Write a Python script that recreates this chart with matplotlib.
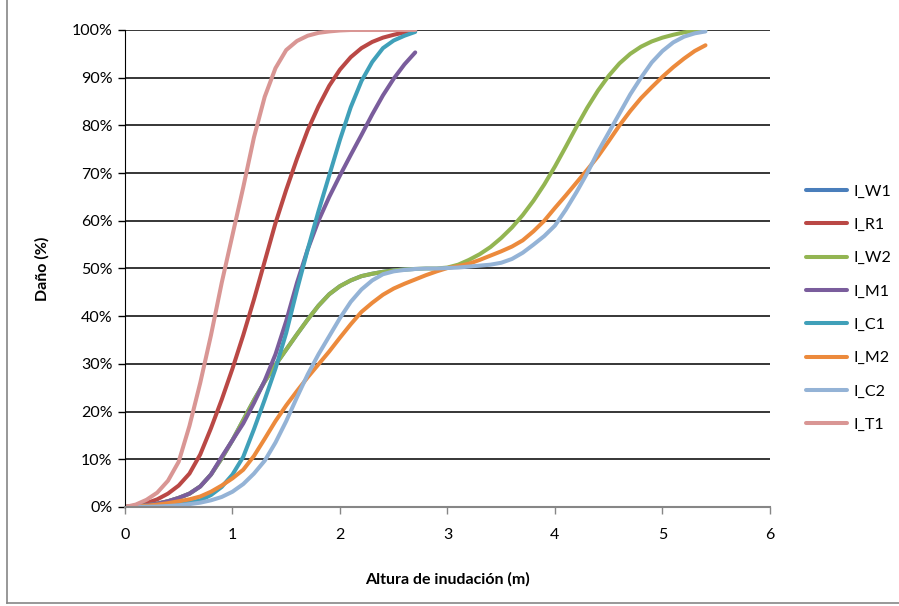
import matplotlib
matplotlib.use("Agg")
import matplotlib.pyplot as plt
from matplotlib.lines import Line2D
from matplotlib.ticker import FuncFormatter, MultipleLocator

plt.rcParams["font.family"] = ["Lato", "DejaVu Sans"]

# water depth (m) for the short and long curves
depth_short = [round(0.1 * i, 1) for i in range(28)]   # 0.0 .. 2.7
depth_long = [round(0.1 * i, 1) for i in range(55)]    # 0.0 .. 5.4

# damage (%)
i_w1 = [0, 0.1, 0.35, 0.7, 1.2, 1.9, 2.8, 4.3, 6.8, 10.2, 14, 18.2, 22.4, 26.3,
        29.8, 33, 36.2, 39.3, 42.2, 44.6, 46.3, 47.5, 48.4, 48.9, 49.3, 49.6, 49.8, 49.9]
i_r1 = [0, 0.3, 0.8, 1.6, 2.8, 4.5, 7, 11, 16.5, 22.5, 29, 36, 43.5, 51.5,
        59.5, 66.5, 73, 79, 84, 88.3, 91.7, 94.3, 96.2, 97.5, 98.4, 99, 99.5, 99.8]
i_w2 = [0, 0.1, 0.35, 0.7, 1.2, 1.9, 2.8, 4.3, 6.8, 10.2, 14, 18.2, 22.4, 26.3,
        29.8, 33, 36.2, 39.3, 42.2, 44.6, 46.3, 47.5, 48.4, 48.9, 49.3, 49.6, 49.8, 49.9,
        50, 50, 50.2, 50.8, 51.8, 53, 54.5, 56.4, 58.6, 61.2, 64.2, 67.6, 71.4, 75.5,
        79.7, 83.7, 87.3, 90.4, 93, 95, 96.5, 97.6, 98.4, 99, 99.5, 99.8, 100]
i_m1 = [0, 0.1, 0.35, 0.7, 1.2, 1.9, 2.8, 4.3, 6.8, 10.5, 14, 17.5, 21.8, 26.5,
        32, 39, 47, 54, 60, 65, 69.5, 73.8, 78, 82.3, 86.3, 89.8, 92.8, 95.3]
i_c1 = [0, 0, 0.1, 0.2, 0.35, 0.6, 0.9, 1.4, 2.5, 4.2, 6.8, 10.5, 16.3, 22.5,
        29, 36.5, 45.5, 54, 62, 69.5, 77, 83.8, 89.3, 93.3, 96.2, 97.8, 98.8, 99.6]
i_m2 = [0, 0.1, 0.25, 0.5, 0.8, 1.2, 1.6, 2.2, 3.2, 4.5, 6, 7.8, 10.7, 14.3,
        18, 21.3, 24.3, 27.2, 29.9, 32.6, 35.5, 38.3, 40.9, 42.8, 44.5, 45.8, 46.8, 47.7,
        48.6, 49.4, 50.1, 50.5, 51, 51.8, 52.7, 53.6, 54.6, 55.9, 57.8, 60, 62.7, 65.3,
        68, 70.7, 73.5, 76.7, 80, 83, 85.7, 88, 90.2, 92.2, 94, 95.6, 96.8]
i_c2 = [0, 0, 0.05, 0.1, 0.2, 0.35, 0.6, 0.9, 1.4, 2.1, 3.2, 4.8, 7, 9.7,
        13.5, 18, 23, 27.8, 32, 35.8, 39.6, 43, 45.6, 47.5, 48.8, 49.4, 49.7, 49.9,
        50, 50, 50.1, 50.2, 50.4, 50.6, 50.8, 51.2, 52, 53.3, 55, 56.8, 59, 62.3,
        66, 70, 74.5, 78.5, 82.5, 86.5, 90, 93.2, 95.6, 97.4, 98.6, 99.3, 99.7]
i_t1 = [0, 0.5, 1.5, 3, 5.5, 9.5, 17, 26, 36, 47, 57, 67, 77.5, 86,
        92, 95.8, 97.7, 98.8, 99.4, 99.7, 99.9, 100, 100, 100, 100, 100, 100, 100]

series = [
    ("I_W1", depth_short, i_w1, "#4A7EBB"),
    ("I_R1", depth_short, i_r1, "#BA4845"),
    ("I_W2", depth_long, i_w2, "#93B552"),
    ("I_M1", depth_short, i_m1, "#7A5D9C"),
    ("I_C1", depth_short, i_c1, "#40A0B9"),
    ("I_M2", depth_long, i_m2, "#EC8A3C"),
    ("I_C2", depth_long, i_c2, "#94B3D6"),
    ("I_T1", depth_short, i_t1, "#D99694"),
]

fig = plt.figure(figsize=(8.99, 6.06), dpi=100)
ax = fig.add_axes([0.139, 0.1634, 0.7175, 0.7871])

for name, x, y, color in series:
    ax.plot(x, y, color=color, lw=2.9, label=name, solid_capstyle="round", solid_joinstyle="round")

ax.set_xlim(0, 6)
ax.set_ylim(0, 100)
ax.xaxis.set_major_locator(MultipleLocator(1))
ax.yaxis.set_major_locator(MultipleLocator(10))
ax.yaxis.set_major_formatter(FuncFormatter(lambda v, _: f"{v:.0f}%"))
ax.grid(axis="y", color="black", lw=1.1)
ax.set_axisbelow(True)

for side in ("top", "right"):
    ax.spines[side].set_visible(False)
ax.spines["left"].set_color("black")
ax.spines["bottom"].set_color("#868686")
ax.spines["bottom"].set_linewidth(1.5)
ax.tick_params(axis="y", length=5, width=1, color="black", labelsize=11.5, pad=4)
ax.tick_params(axis="x", length=5, width=1, color="#868686", labelsize=11.5, pad=10)

ax.set_xlabel("Altura de inudación (m)", fontsize=11.5, fontweight="bold", labelpad=22)
ax.set_ylabel("Daño (%)", fontsize=11.5, fontweight="bold", labelpad=16)

fig.legend(loc="center left", bbox_to_anchor=(0.8965, 0.4917), frameon=False,
           fontsize=11.5, labelspacing=1.2, handlelength=2.6, handletextpad=0.35,
           borderaxespad=0, borderpad=0)

# chart-area border (left and bottom edges visible)
fig.add_artist(Line2D([7 / 899, 7 / 899], [3 / 606, 1], transform=fig.transFigure,
                      color="#868686", lw=1.2))
fig.add_artist(Line2D([7 / 899, 1], [3 / 606, 3 / 606], transform=fig.transFigure,
                      color="#868686", lw=1.2))

fig.savefig("out.png", dpi=100)
